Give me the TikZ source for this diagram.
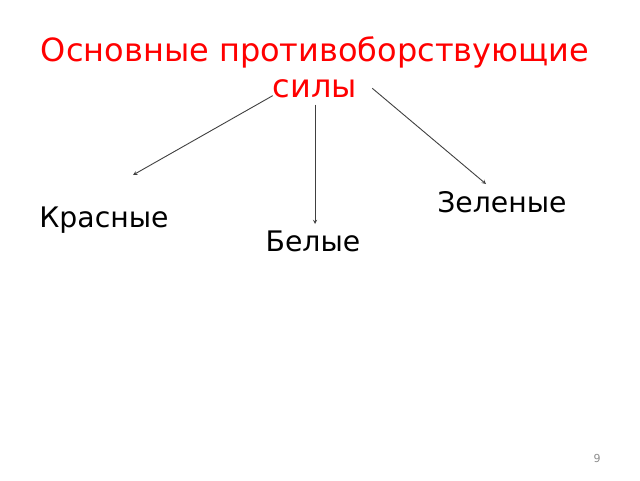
\documentclass[tikz,border=0pt]{standalone}
\usepackage{fontspec}
\setmainfont{DejaVu Sans}
\usetikzlibrary{shapes,arrows,positioning,calc}
\tikzstyle{heading} = [text=red, font=\fontsize{32}{36}\selectfont, inner sep=2pt, anchor=base]
\tikzstyle{force} = [text=black, font=\fontsize{28.3}{32}\selectfont, inner sep=2pt, anchor=base]
\tikzstyle{link} = [->, draw=black!75, line width=0.9pt]

\begin{document}
\begin{tikzpicture}[x=1pt, y=-1pt, >=stealth]
   \useasboundingbox (0,0) rectangle (640,480);
   % nodes
   \node[heading] (title) at (315,61)    {Основные противоборствующие};
   \node[heading] (sily)  at (315,97)    {силы};
   \node[force] (red)     at (104,227)   {Красные};
   \node[force] (white)   at (313,251)   {Белые};
   \node[force] (green)   at (502,212)   {Зеленые};
   \node[text=black!45, font=\fontsize{11}{13}\selectfont, anchor=base] (page) at (597,462) {9};
   % arrow tips
   \coordinate (redtip)   at (133,175);
   \coordinate (whitetip) at (315,224);
   \coordinate (greentip) at (486,184);

   % edges
	\draw[link] ($(sily.south west)+(2,-4)$) to (redtip);
	\draw[link, shorten <=5pt] (sily.south) to (whitetip);
	\draw[link] ($(sily.east)+(13,0)$) to (greentip);
\end{tikzpicture}
\end{document}
